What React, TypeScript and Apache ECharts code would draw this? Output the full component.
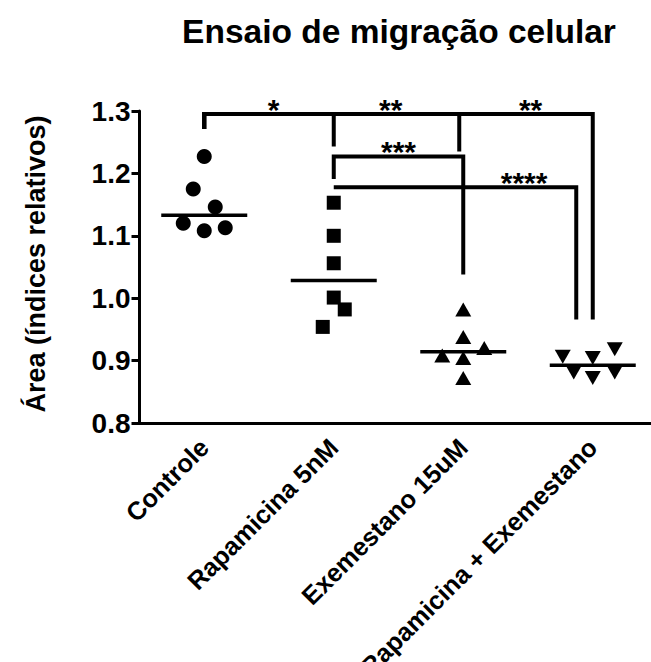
import React, { useEffect, useRef } from "react";
import * as echarts from "echarts";

const categories = ["Controle", "Rapamicina 5nM", "Exemestano 15uM", "Rapamicina + Exemestano"];
const controle = [1.227, 1.175, 1.146, 1.12, 1.108, 1.113];
const rapamicina = [1.153, 1.1, 1.056, 1.001, 0.982, 0.954];
const exemestano = [0.982, 0.938, 0.92, 0.908, 0.904, 0.872];
const combinacao = [0.918, 0.906, 0.904, 0.881, 0.872, 0.881];
const groups = [controle, rapamicina, exemestano, combinacao];
const symbols = ["circle", "rect", "triangle", "triangle"];

// horizontal spread of the dots (pixels)
const jitter = [
  [0, -11, 11, -21, 0, 21],
  [0, 0, 0, 0, 11, -11],
  [0, 0, 21, -21, 0, 0],
  [22, -30, 0, -19, 0, 22],
];

const yTicks = { min: 0.8, max: 1.3, interval: 0.1 };

const comparisons = [
  { from: 0, to: 1, label: "*" },
  { from: 0, to: 2, label: "**" },
  { from: 0, to: 3, label: "**" },
  { from: 1, to: 2, label: "***" },
  { from: 1, to: 3, label: "****" },
];
const bracketTop = [1.295, 1.295, 1.295, 1.227, 1.178];
const bracketLeftEnd = [1.271, 1.271, 1.271, 1.191, 1.178];
const bracketRightEnd = [1.243, 1.235, 0.966, 1.038, 0.966];

const median = (arr: number[]) => {
  const s = [...arr].sort((a, b) => a - b);
  const m = s.length / 2;
  return s.length % 2 ? s[Math.floor(m)] : (s[m - 1] + s[m]) / 2;
};

const FONT = "'Liberation Sans', Arial, Helvetica, sans-serif";

export default function App() {
  const ref = useRef<HTMLDivElement>(null);
  useEffect(() => {
    document.body.style.margin = "0";
    const chart = echarts.init(ref.current!, null, { renderer: "svg" });
    const rightNudge = [0, -4, 0, 0, -16.5];
    const labelAt = [0.535, 1.44, 2.52, 1.5, 2.47];

    const scatterSeries = groups.map((vals, gi) => ({
      type: "scatter",
      name: categories[gi],
      symbol: symbols[gi],
      symbolRotate: gi === 3 ? 180 : 0,
      symbolSize: gi === 0 ? 15 : gi === 1 ? 14 : [16, 14],
      itemStyle: { color: "#000", opacity: 1 },
      z: 5,
      data: vals.map((v, k) => ({ value: [gi, v], symbolOffset: [jitter[gi][k], 0] })),
    }));

    const option: any = {
      animation: false,
      backgroundColor: "#fff",
      textStyle: { fontFamily: FONT },
      grid: {
        left: 139.5,
        top: 111,
        width: 518,
        height: 312,
        containLabel: false,
        outerBoundsMode: "none",
      },
      xAxis: {
        type: "category",
        data: categories,
        boundaryGap: true,
        axisLine: { lineStyle: { color: "#000", width: 3 } },
        axisTick: { alignWithLabel: true, length: 9, lineStyle: { color: "#000", width: 3 } },
        axisLabel: {
          rotate: 45,
          interval: 0,
          margin: 20,
          color: "#000",
          fontSize: 25.5,
          fontWeight: "bold",
          fontFamily: FONT,
        },
        splitLine: { show: false },
      },
      yAxis: {
        type: "value",
        min: yTicks.min,
        max: yTicks.max,
        interval: yTicks.interval,
        axisLine: { show: true, lineStyle: { color: "#000", width: 3 } },
        axisTick: { show: true, length: 8, lineStyle: { color: "#000", width: 3 } },
        axisLabel: {
          margin: 9,
          color: "#000",
          fontSize: 28,
          fontWeight: "bold",
          fontFamily: FONT,
          formatter: (v: number) => v.toFixed(1),
        },
        splitLine: { show: false },
      },
      graphic: [
        {
          type: "text",
          x: 399,
          y: 31,
          style: {
            text: "Ensaio de migração celular",
            fontSize: 33.5,
            fontWeight: "bold",
            fontFamily: FONT,
            fill: "#000",
            align: "center",
            verticalAlign: "middle",
          },
        },
        {
          type: "text",
          x: 36,
          y: 264,
          rotation: Math.PI / 2,
          style: {
            text: "Área (índices relativos)",
            fontSize: 27,
            fontWeight: "bold",
            fontFamily: FONT,
            fill: "#000",
            align: "center",
            verticalAlign: "middle",
          },
        },
      ],
      series: [
        ...scatterSeries,
        {
          type: "custom",
          name: "mediana",
          z: 4,
          data: groups.map((vals, gi) => [gi, median(vals)]),
          encode: { x: 0, y: 1 },
          renderItem: (params: any, api: any) => {
            const p = api.coord([api.value(0), api.value(1)]);
            return {
              type: "line",
              shape: { x1: p[0] - 43, y1: p[1], x2: p[0] + 43, y2: p[1] },
              style: { stroke: "#000", lineWidth: 3.5 },
            };
          },
        },
        {
          type: "custom",
          name: "comparações",
          z: 3,
          data: comparisons.map((c, i) => [c.from, bracketTop[i]]),
          encode: { x: 0, y: 1 },
          renderItem: (params: any, api: any) => {
            const i = params.dataIndex;
            const c = comparisons[i];
            const x0 = api.coord([0, yTicks.min])[0];
            const band = api.coord([1, yTicks.min])[0] - x0;
            const xl = x0 + band * c.from;
            const xr = x0 + band * c.to + rightNudge[i];
            const yt = api.coord([0, bracketTop[i]])[1];
            const yl = api.coord([0, bracketLeftEnd[i]])[1];
            const yr = api.coord([0, bracketRightEnd[i]])[1];
            return {
              type: "group",
              children: [
                {
                  type: "polyline",
                  shape: { points: [[xl, yl], [xl, yt], [xr, yt], [xr, yr]] },
                  style: { stroke: "#000", lineWidth: 4, fill: null, lineJoin: "miter" },
                },
                {
                  type: "text",
                  x: x0 + band * labelAt[i],
                  y: yt - 5,
                  style: {
                    text: c.label,
                    fontSize: 30,
                    fontWeight: "bold",
                    fontFamily: FONT,
                    fill: "#000",
                    align: "center",
                    verticalAlign: "middle",
                  },
                },
              ],
            };
          },
        },
      ],
    };
    chart.setOption(option);
    return () => chart.dispose();
  }, []);
  return <div ref={ref} style={{ width: 651, height: 662 }} />;
}
